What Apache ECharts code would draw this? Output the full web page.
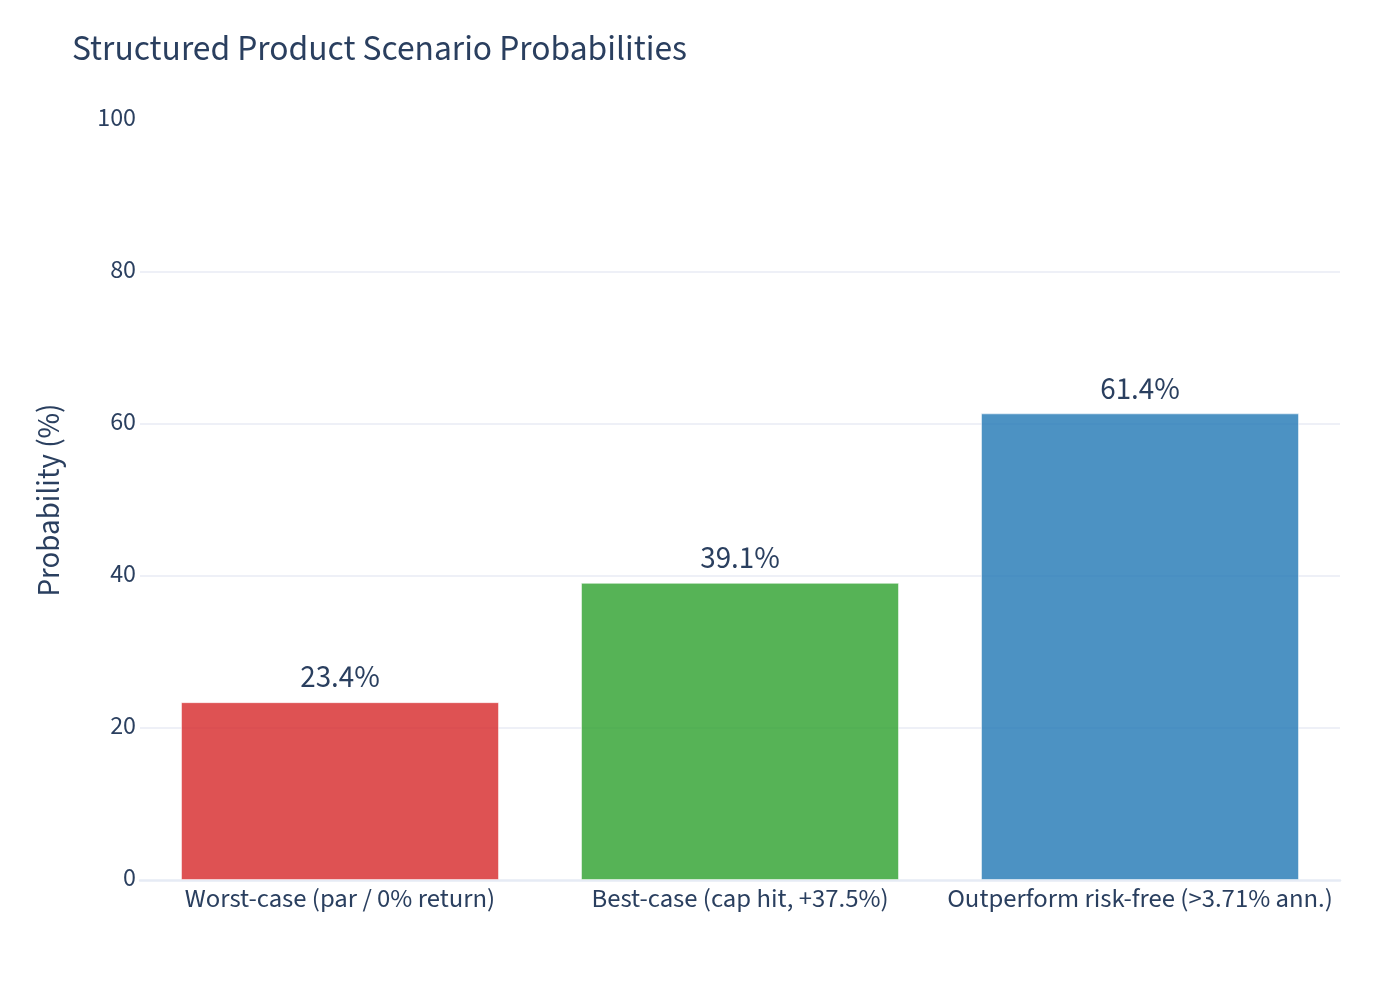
<!DOCTYPE html>
<html>
<head>
<meta charset="utf-8">
<script src="https://cdn.jsdelivr.net/npm/echarts@6/dist/echarts.min.js"></script>
<style>html,body{margin:0;padding:0;background:#fff}#chart{width:1400px;height:1000px}</style>
</head>
<body>
<div id="chart"></div>
<script>
const categories = ['Worst-case (par / 0% return)', 'Best-case (cap hit, +37.5%)', 'Outperform risk-free (>3.71% ann.)'];
const probabilities = [23.4, 39.1, 61.4];
const barColors = ['rgba(214,39,40,0.8)', 'rgba(44,160,44,0.8)', 'rgba(31,119,180,0.8)'];
const yTicks = [0, 20, 40, 60, 80, 100];

const FONT = '"Source Sans Pro", "Source Sans 3", Lato, sans-serif';
const TXT = '#2a3f5f';
const chart = echarts.init(document.getElementById('chart'), null, {renderer: 'canvas'});
chart.setOption({
  backgroundColor: '#ffffff',
  animation: false,
  textStyle: {fontFamily: FONT, color: TXT},
  title: {
    text: 'Structured Product Scenario Probabilities',
    left: 67, top: 29,
    textStyle: {fontFamily: FONT, fontSize: 35.5, fontWeight: 'normal', color: TXT}
  },
  grid: {left: 140, right: 60, top: 120, bottom: 120, containLabel: false},
  xAxis: {
    type: 'category',
    data: categories,
    axisLine: {show: true, lineStyle: {color: '#e6ebf5', width: 2.5}},
    axisTick: {show: false},
    axisLabel: {fontFamily: FONT, fontSize: 26.7, color: TXT, margin: 8, interval: 0}
  },
  yAxis: {
    type: 'value',
    min: yTicks[0], max: yTicks[yTicks.length - 1], interval: 20,
    name: 'Probability (%)',
    nameLocation: 'middle',
    nameGap: 72,
    nameRotate: 90,
    nameTextStyle: {fontFamily: FONT, fontSize: 31, color: TXT},
    axisLine: {show: false},
    axisTick: {show: false},
    axisLabel: {fontFamily: FONT, fontSize: 26, color: TXT, margin: 4},
    splitLine: {show: true, lineStyle: {color: ['transparent', '#e8ebf5', '#e8ebf5', '#e8ebf5', '#e8ebf5', 'transparent'], width: 1.5}}
  },
  series: [{
    type: 'bar',
    barWidth: '79.5%',
    data: probabilities.map((v, i) => ({value: v, itemStyle: {color: barColors[i]}})),
    itemStyle: {borderColor: 'rgba(255,255,255,0.5)', borderWidth: 1},
    label: {
      show: true, position: 'top', distance: 6,
      formatter: p => p.value.toFixed(1) + '%',
      fontFamily: FONT, fontSize: 31, color: TXT
    }
  }]
});
</script>
</body>
</html>
